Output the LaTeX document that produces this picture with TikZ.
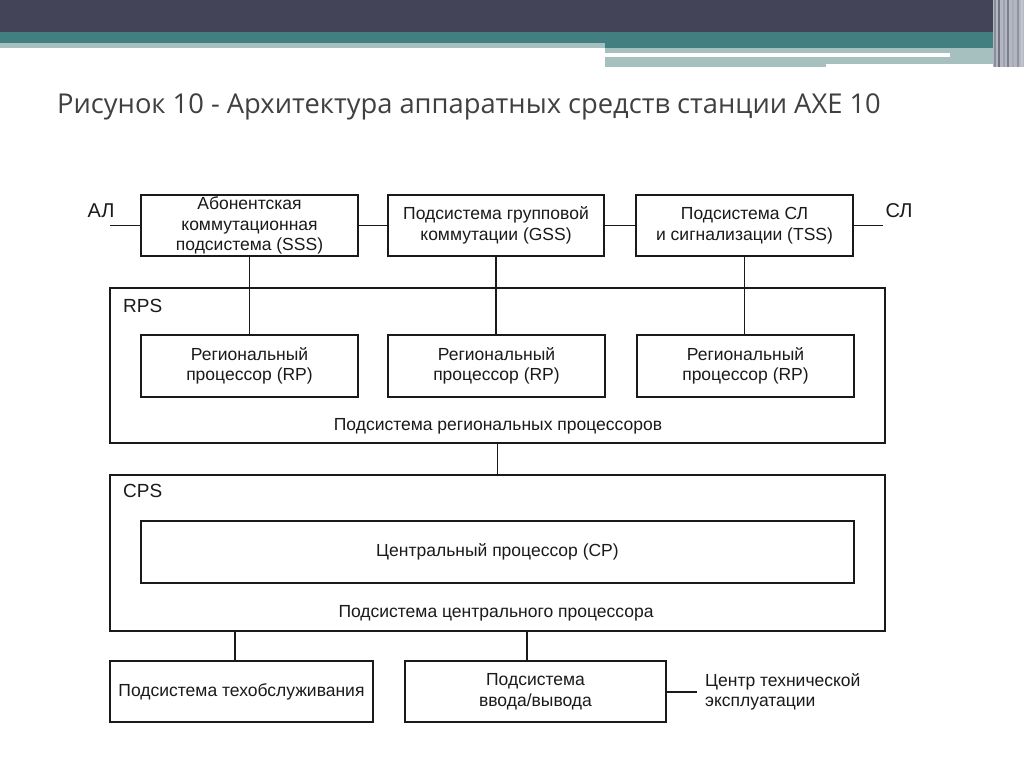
\documentclass[tikz,border=0pt]{standalone}
\usepackage{fontspec}
\setmainfont{Liberation Sans}
\newfontfamily\titlefont{Open Sans}
\definecolor{hdark}{HTML}{434457}
\definecolor{hteal}{HTML}{427F80}
\definecolor{hlight}{HTML}{A6BFBF}
\definecolor{hstripe}{HTML}{B4B7C2}
\definecolor{titlegray}{HTML}{404040}
\definecolor{ink}{HTML}{1A1A1A}
\begin{document}
\begin{tikzpicture}[x=1pt,y=-1pt,
  box/.style={draw=ink,line width=1.6pt,rectangle,inner sep=0pt,align=center,
    font=\fontsize{17.5}{20.5}\selectfont,text=ink},
  lbl/.style={inner sep=0pt,font=\fontsize{17.5}{20.5}\selectfont,text=ink},
  big/.style={inner sep=0pt,font=\fontsize{19}{22}\selectfont,text=ink},
  wire/.style={draw=ink,line width=1.6pt}]
\useasboundingbox (0,0) rectangle (1024,767);
\fill[white] (0,0) rectangle (1024,767);
% header
\fill[hdark] (0,0) rectangle (993,32);
\fill[hteal] (0,32) rectangle (993,43);
\fill[hlight] (0,43) rectangle (605,48);
\fill[hteal] (605,43) rectangle (993,48);
\fill[hlight] (605,48) rectangle (826,67);
\fill[hlight] (826,48) rectangle (993,64);
\fill[white] (605,53) rectangle (950,57);
\fill[hstripe] (993,0) rectangle (1024,67);
\foreach \xx/\cc in {994/8A8D9C,998/6F7283,1003/9EA1AE,1007/7C7F8F,1012/A9ACB8,1017/8F92A0,1021/C2C5CE}
  {\definecolor{stc}{HTML}{\cc}\fill[stc] (\xx,0) rectangle ++(2,67);}
% title
\node[anchor=base west,inner sep=0pt,text=titlegray,font=\titlefont\fontsize{27.3}{32}\selectfont] (title) at (57,114)
  {Рисунок 10 - Архитектура аппаратных средств станции АХЕ 10};
% outer subsystems
\node[box,minimum width=775,minimum height=155] (rps) at (497.5,365.5) {};
\node[box,minimum width=775,minimum height=156] (cps) at (497.5,553) {};
% top row
\node[box,minimum width=217,minimum height=61] (sss) at (249.5,225.5)
  {Абонентская\\коммутационная\\подсистема (SSS)};
\node[box,minimum width=216,minimum height=61] (gss) at (496,225.5)
  {Подсистема групповой\\коммутации (GSS)};
\node[box,minimum width=217,minimum height=61] (tss) at (744.5,225.5)
  {Подсистема СЛ\\и сигнализации (TSS)};
% RPs
\node[box,minimum width=217,minimum height=62] (rp1) at (249.5,366) {Региональный\\процессор (RP)};
\node[box,minimum width=217,minimum height=62] (rp2) at (496.5,366) {Региональный\\процессор (RP)};
\node[box,minimum width=217,minimum height=62] (rp3) at (745.5,366) {Региональный\\процессор (RP)};
\node[big,anchor=west] (rpsl) at (123,306) {RPS};
\node[lbl] (rpst) at (498,426) {Подсистема региональных процессоров};
% CP
\node[box,minimum width=713,minimum height=62] (cp) at (497.5,552) {Центральный процессор (CP)};
\node[big,anchor=west] (cpsl) at (123,491) {CPS};
\node[lbl] (cpst) at (496,613) {Подсистема центрального процессора};
% bottom
\node[box,minimum width=263,minimum height=61] (mnt) at (241.5,691.5) {Подсистема техобслуживания};
\node[box,minimum width=261,minimum height=61] (io) at (535.5,691.5) {Подсистема\\ввода/вывода};
\node[lbl,anchor=west,align=left] (tc) at (705,692) {Центр технической\\эксплуатации};
% side labels
\node[big,font=\fontsize{20}{22}\selectfont] (al) at (101,211) {АЛ};
\node[big,font=\fontsize{20}{22}\selectfont] (sl) at (899,211) {СЛ};
\coordinate (alend) at (110,225.5);
\coordinate (slend) at (883,225.5);
\coordinate (tcend) at (697,692);
% wires
\draw[wire] (alend) -- (sss.west);
\draw[wire] (sss.east) -- (gss.west);
\draw[wire] (gss.east) -- (tss.west);
\draw[wire] (tss.east) -- (slend);
\draw[wire] (sss.south) -- (sss.south |- rp1.north);
\draw[wire] (gss.south) -- (gss.south |- rp2.north);
\draw[wire] (tss.south) -- (tss.south |- rp3.north);
\draw[wire] (rps.south) -- (cps.north);
\draw[wire] ([xshift=-6.5pt]mnt.north) -- ([xshift=-6.5pt]mnt.north |- cps.south);
\draw[wire] ([xshift=-8.5pt]io.north) -- ([xshift=-8.5pt]io.north |- cps.south);
\draw[wire] (io.east |- tcend) -- (tcend);
\end{tikzpicture}
\end{document}
